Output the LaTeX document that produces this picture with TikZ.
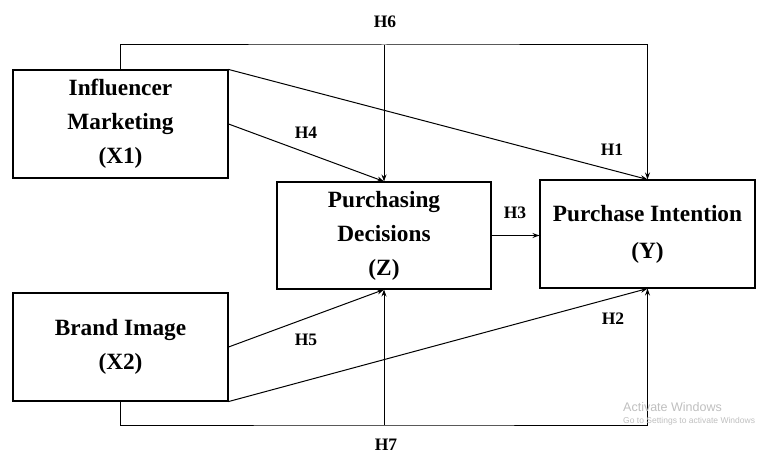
\documentclass[tikz,border=0pt]{standalone}
\usepackage{fontspec}
\setmainfont{Liberation Serif}
\newfontfamily\winfont{Liberation Sans}
\usetikzlibrary{positioning,
        arrows.meta}

\tikzset{
        varbox/.style={draw,line width=1.1pt,minimum width=215pt,minimum height=108pt,align=center,
                font=\fontsize{23.3}{34}\selectfont\bfseries,inner sep=0pt},
        hlab/.style={font=\fontsize{17.5}{20}\selectfont\bfseries},
        path/.style={line width=1pt,-{Stealth[length=7pt,width=5pt]}}
}

\begin{document}
\begin{tikzpicture}[x=1pt,y=-1pt]
        \useasboundingbox (0,0) rectangle (759,454);
        \clip (0,0) rectangle (759,454);

        \node [varbox] (X1) at (120.5,124) {Influencer\\Marketing\\(X1)};
        \node [varbox] (X2) at (120.5,347) {Brand Image\\(X2)};
        \node [varbox,minimum width=214pt,minimum height=107pt] (Z) at (384,235.5) {Purchasing\\Decisions\\(Z)};
        \node [varbox,font=\fontsize{23.3}{37}\selectfont\bfseries] (Y) at (647.5,234) {Purchase Intention\\(Y)};

        \coordinate (h6top) at (384,45);
        \coordinate (h7bot) at (384,425);

        % direct paths
        \draw [path] (X1.north east) -- (Y.north);
        \draw [path] (X1.east) -- (Z.north);
        \draw [path] (X2.east) -- (Z.south);
        \draw [path] (X2.south east) -- (Y.south);
        \draw [path] (Z.east) -- (Z.east -| Y.west);

        % mediated paths
        \draw [path] (X1.north) |- (h6top) -| (Y.north);
        \draw [path] (h6top) -- (Z.north);
        \draw [path] (X2.south) |- (h7bot) -| (Y.south);
        \draw [path] (h7bot) -- (Z.south);

        \node [hlab] (H1) at (612,150) {H1};
        \node [hlab] (H2) at (613,319) {H2};
        \node [hlab] (H3) at (515,213) {H3};
        \node [hlab] (H4) at (306,133) {H4};
        \node [hlab] (H5) at (306,340) {H5};
        \node [hlab] (H6) at (385,22) {H6};
        \node [hlab] (H7) at (386,445) {H7};

        \node [anchor=west,text=black!25,font=\winfont\fontsize{12.5}{14}\selectfont,inner sep=0pt] (act) at (623,407) {Activate Windows};
        \node [anchor=west,text=black!25,font=\winfont\fontsize{8.5}{10}\selectfont,inner sep=0pt] (go) at (623,421) {Go to Settings to activate Windows};
\end{tikzpicture}
\end{document}
